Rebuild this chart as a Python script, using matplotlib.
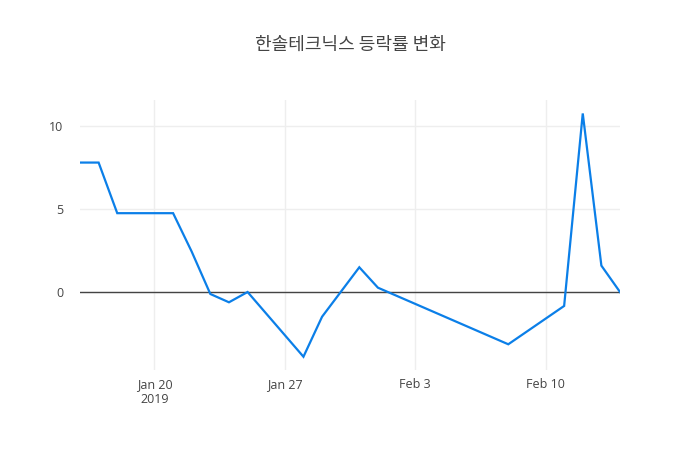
import pandas as pd
import matplotlib
matplotlib.use("Agg")
import matplotlib.pyplot as plt

plt.rcParams['font.family'] = ['Open Sans', 'Noto Sans CJK KR', 'DejaVu Sans']

# ==== Data ====
dates = ["2019-01-16", "2019-01-17", "2019-01-18", "2019-01-21", "2019-01-22",
         "2019-01-23", "2019-01-24", "2019-01-25", "2019-01-28", "2019-01-29",
         "2019-01-31", "2019-02-01", "2019-02-08", "2019-02-11", "2019-02-12",
         "2019-02-13", "2019-02-14"]
change_pct = [7.8, 7.8, 4.75, 4.75, 2.43,
              -0.12, -0.62, 0.0, -3.9, -1.49,
              1.49, 0.26, -3.15, -0.84, 10.76,
              1.59, 0.0]
tick_dates = ["2019-01-20", "2019-01-27", "2019-02-03", "2019-02-10"]
tick_labels = ["Jan 20\n2019", "Jan 27", "Feb 3", "Feb 10"]
y_ticks = [0, 5, 10]
title = "한솔테크닉스 등락률 변화"

x = pd.to_datetime(dates)

fig = plt.figure(figsize=(7, 4.5), dpi=100)
ax = fig.add_axes([80 / 700, 80 / 450, 540 / 700, 270 / 450])

ax.plot(x, change_pct, color="#0b7fe8", linewidth=1.6, solid_joinstyle="miter", zorder=3)
ax.axhline(0, color="#444444", linewidth=1, zorder=2)

ax.set_xlim(pd.Timestamp(dates[0]), pd.Timestamp(dates[-1]))
ax.set_ylim(-4.70, 11.57)

ax.set_xticks(pd.to_datetime(tick_dates))
ax.set_xticklabels(tick_labels)
ax.set_yticks(y_ticks)
ax.set_yticklabels([str(v) for v in y_ticks])

ax.grid(True, color="#eeeeee", linewidth=1, zorder=0)
ax.set_axisbelow(True)
for s in ax.spines.values():
    s.set_visible(False)
ax.tick_params(length=0, labelsize=9, colors="#444444", pad=6)
ax.tick_params(axis="y", pad=12)

fig.text(350 / 700, 1 - 45 / 450, title, ha="center", va="center",
         fontsize=13, color="#444444", family=['Noto Sans CJK KR', 'DejaVu Sans'])

fig.savefig("out.png", dpi=100)
